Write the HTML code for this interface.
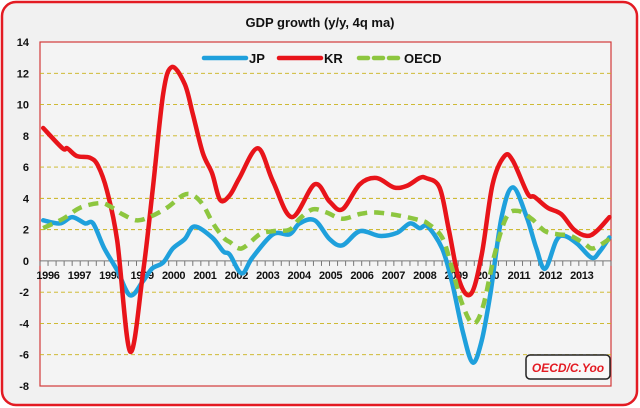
<!DOCTYPE html>
<html><head><meta charset="utf-8"><style>
body{margin:0;background:#fff;}
svg{display:block;font-family:"Liberation Sans",sans-serif;}
</style></head><body>
<svg width="640" height="408" viewBox="0 0 640 408">
<rect x="2" y="2" width="635" height="403" rx="14" fill="#f1f1f1" stroke="#e31b23" stroke-width="2.5"/>
<text x="320" y="27" text-anchor="middle" font-size="13" font-weight="bold" fill="#111">GDP growth (y/y, 4q ma)</text>
<rect x="40" y="42" width="571" height="344" fill="#f4f4f4" stroke="#d23a3a" stroke-width="1.2"/>
<g id="grid"></g><g id="axes"></g><g id="series"></g>
<g>
<line x1="204" y1="58" x2="246" y2="58" stroke="#1fa0dc" stroke-width="4.5" stroke-linecap="round"/>
<text x="249" y="63" font-size="13" font-weight="bold" fill="#111">JP</text>
<line x1="279" y1="58" x2="321" y2="58" stroke="#e8141a" stroke-width="4.5" stroke-linecap="round"/>
<text x="324" y="63" font-size="13" font-weight="bold" fill="#111">KR</text>
<line x1="359" y1="58" x2="400" y2="58" stroke="#8dc63f" stroke-width="4.5" stroke-dasharray="9,6" stroke-linecap="round"/>
<text x="404" y="63" font-size="13" font-weight="bold" fill="#111">OECD</text>
</g>
<rect x="526" y="355" width="84" height="24" rx="4" fill="#f8f8f8" stroke="#222" stroke-width="1.5"/>
<text x="568" y="372" text-anchor="middle" font-size="12" font-weight="bold" font-style="italic" fill="#e31b23">OECD/C.Yoo</text>
</svg>
<script>
const yTicks=[14,12,10,8,6,4,2,0,-2,-4,-6,-8];
const yearLabels=["1996","1997","1998","1999","2000","2001","2002","2003","2004","2005","2006","2007","2008","2009","2010","2011","2012","2013"];
const krT=[0.1,0.7,0.85,1.15,1.55,1.8,2.08,2.4,2.8,3.2,3.5,3.83,4.1,4.5,4.75,5.06,5.35,5.6,5.9,6.2,6.77,7.24,7.83,8.54,9.0,9.4,9.94,10.46,11.0,11.4,11.8,12.0,12.42,12.7,13.04,13.4,13.73,14.07,14.44,14.7,15.16,15.37,15.78,16.2,16.6,17.0,17.3,17.7];
const krV=[8.5,7.2,7.2,6.7,6.6,6.1,4.5,1.3,-5.8,-0.8,4.5,10.7,12.4,11.3,9.4,6.9,5.6,3.9,4.2,5.3,7.2,5.1,2.8,4.9,3.8,3.3,4.9,5.3,4.7,4.8,5.3,5.3,4.7,2.1,-1.3,-2.1,0.4,4.9,6.7,6.4,4.3,4.1,3.4,3.0,2.0,1.6,1.9,2.8];
const jpT=[0.1,0.62,1.0,1.4,1.65,2.0,2.4,2.8,3.2,3.48,3.83,4.13,4.5,4.8,5.35,5.7,5.9,6.27,6.6,7.24,7.76,8.07,8.54,9.0,9.4,9.94,10.56,11.1,11.5,11.8,12.05,12.5,12.8,13.14,13.45,13.73,14.0,14.35,14.7,15.13,15.43,15.7,16.05,16.3,16.7,17.15,17.4,17.7];
const jpV=[2.6,2.4,2.8,2.4,2.4,0.8,-0.6,-2.2,-1.3,-0.5,-0.1,0.8,1.4,2.2,1.5,0.6,0.4,-0.8,0.2,1.7,1.7,2.4,2.6,1.4,1.0,1.9,1.6,1.8,2.4,2.1,2.2,0.8,-1.3,-4.5,-6.5,-5.1,-2.1,2.8,4.7,2.8,0.8,-0.5,1.3,1.6,1.1,0.2,0.6,1.5];
const oeT=[0.1,0.72,1.25,1.86,2.17,2.55,3.0,3.4,3.95,4.45,4.75,5.06,5.38,5.7,5.9,6.27,6.83,7.24,7.76,8.07,8.48,8.9,9.4,9.94,10.35,10.87,11.4,11.8,12.05,12.5,12.8,13.1,13.45,13.76,14.13,14.5,14.85,15.28,15.7,16.1,16.5,16.93,17.2,17.7];
const oeV=[2.1,2.7,3.4,3.7,3.5,3.0,2.6,2.8,3.4,4.2,4.2,3.6,2.4,1.5,1.2,0.8,1.7,1.9,2.0,2.7,3.3,3.1,2.7,3.0,3.1,3.0,2.8,2.6,2.4,1.5,-0.4,-2.6,-4.0,-3.0,0.4,2.8,3.2,2.7,1.9,1.7,1.6,1.1,0.8,1.4];
const NS="http://www.w3.org/2000/svg";
const X0=40,X1=611,Y0=42,Y1=386,YMAX=14,YMIN=-8;
const yScale=v=>Y0+(YMAX-v)*(Y1-Y0)/(YMAX-YMIN);
const xScale=t=>X0+t*(X1-X0)/17.75;
function mk(tag,attrs,parent){const e=document.createElementNS(NS,tag);for(const k in attrs)e.setAttribute(k,attrs[k]);parent.appendChild(e);return e;}
const grid=document.getElementById('grid'),axes=document.getElementById('axes'),ser=document.getElementById('series');
yTicks.forEach(v=>{
  const y=yScale(v);
  if(v!==0&&v!==14&&v!==-8){const l=mk('line',{x1:X0,x2:X1,y1:y,y2:y,stroke:'#c9b21a','stroke-width':0.9,'stroke-dasharray':'4,3'},grid);
  
  }
  const t=mk('text',{x:29,y:y+4,'text-anchor':'end','font-size':11,'font-weight':'bold',fill:'#111'},axes);
  t.textContent=v;
  
  
});
const y0=yScale(0);
const ax=mk('line',{x1:X0,x2:X1,y1:y0,y2:y0,stroke:'#777','stroke-width':1},axes);


for(let q=0;q<=71;q++){const x=X0+q*(X1-X0)/71;const tk=mk('line',{x1:x,x2:x,y1:y0,y2:y0+5,stroke:'#777','stroke-width':1},axes);

}
yearLabels.forEach((s,i)=>{const t=mk('text',{x:48+i*31.4,y:y0+18,'text-anchor':'middle','font-size':11,'font-weight':'bold',fill:'#111','letter-spacing':'-0.3'},axes);
t.textContent=s;

});
function pathD(T,V){const p=T.map((t,i)=>[xScale(t),yScale(V[i])]);let d='M'+p[0][0].toFixed(1)+','+p[0][1].toFixed(1);
for(let i=0;i<p.length-1;i++){const a=p[i-1]||p[i],b=p[i],c=p[i+1],e=p[i+2]||c;
const c1=[b[0]+(c[0]-a[0])/6,b[1]+(c[1]-a[1])/6],c2=[c[0]-(e[0]-b[0])/6,c[1]-(e[1]-b[1])/6];
d+=' C'+c1.map(n=>n.toFixed(1))+' '+c2.map(n=>n.toFixed(1))+' '+c[0].toFixed(1)+','+c[1].toFixed(1);}return d;}
const jp=mk('path',{d:pathD(jpT,jpV),fill:'none',stroke:'#1fa0dc','stroke-width':4.5,'stroke-linejoin':'round','stroke-linecap':'round'},ser);


const kr=mk('path',{d:pathD(krT,krV),fill:'none',stroke:'#e8141a','stroke-width':4.5,'stroke-linejoin':'round','stroke-linecap':'round'},ser);


const oe=mk('path',{d:pathD(oeT,oeV),fill:'none',stroke:'#8dc63f','stroke-width':4.5,'stroke-dasharray':'10,7','stroke-linejoin':'round'},ser);


</script>
</body></html>
